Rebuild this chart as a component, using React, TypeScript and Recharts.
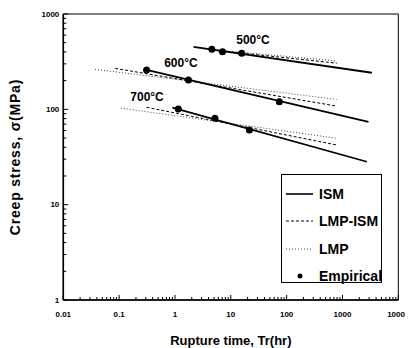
import React from 'react';
import { ComposedChart, Line, Scatter, XAxis, YAxis, Legend, ReferenceDot, ReferenceArea, Label } from 'recharts';

// Temperatures
const temps = ['500°C', '600°C', '700°C'];

// ISM (solid) – rupture time (hr) and stress (MPa)
const ism500T = [2.15, 3360];
const ism500S = [452, 242];
const ism600T = [0.31, 2920];
const ism600S = [260, 74];
const ism700T = [0.9, 2740];
const ism700S = [104, 28.2];

// LMP-ISM (dashed)
const lmpIsm500T = [4.5, 790];
const lmpIsm500S = [420, 305];
const lmpIsm600T = [0.085, 800];
const lmpIsm600S = [269, 108];
const lmpIsm700T = [0.31, 800];
const lmpIsm700S = [105, 42.2];

// LMP (dotted)
const lmp500T = [4.5, 790];
const lmp500S = [425, 321];
const lmp600T = [0.037, 790];
const lmp600S = [263, 127];
const lmp700T = [0.107, 795];
const lmp700S = [103, 49.7];

// Empirical points
const emp500T = [4.57, 7.1, 15.7];
const emp500S = [426, 402, 387];
const emp600T = [0.31, 1.74, 74];
const emp600S = [258, 203, 120];
const emp700T = [1.15, 5.2, 21.5];
const emp700S = [100.7, 80.6, 60.7];

// Temperature label anchors
const labelT = [25, 1.28, 0.316];
const labelS = [533, 306, 134];

// Axes
const xDecades = [0.01, 0.1, 1, 10, 100, 1000, 10000];
const yDecades = [1, 10, 100, 1000];

const zip = (t: number[], s: number[]) => t.map((v, i) => ({ t: v, s: s[i] }));
const withMinor = (dec: number[]) => {
  const out: number[] = [];
  dec.forEach((d, i) => {
    out.push(d);
    if (i < dec.length - 1) for (let k = 2; k <= 9; k++) out.push(d * k);
  });
  return out;
};
const isDecade = (v: number) => Math.abs(Math.log10(v) - Math.round(Math.log10(v))) < 1e-6;

const ismSeries = [zip(ism500T, ism500S), zip(ism600T, ism600S), zip(ism700T, ism700S)];
const lmpIsmSeries = [zip(lmpIsm500T, lmpIsm500S), zip(lmpIsm600T, lmpIsm600S), zip(lmpIsm700T, lmpIsm700S)];
const lmpSeries = [zip(lmp500T, lmp500S), zip(lmp600T, lmp600S), zip(lmp700T, lmp700S)];
const empData = [...zip(emp500T, emp500S), ...zip(emp600T, emp600S), ...zip(emp700T, emp700S)];

const FONT = '"Liberation Sans", Arial, sans-serif';

const XTick = (props: any) => {
  const { x, y, payload } = props;
  const v = payload.value;
  const major = isDecade(v);
  return (
    <g>
      <line x1={x} x2={x} y1={y} y2={y - (major ? 5 : 3)} stroke="#000" strokeWidth={1} />
      {major && (
        <text x={x} y={y + 14} textAnchor="middle" dominantBaseline="central" fontFamily={FONT} fontWeight="bold" fontSize={8} fill="#000">
          {String(v)}
        </text>
      )}
    </g>
  );
};

const YTick = (props: any) => {
  const { x, y, payload } = props;
  const v = payload.value;
  const major = isDecade(v);
  return (
    <g>
      <line x1={x} x2={x + (major ? 5 : 3)} y1={y} y2={y} stroke="#000" strokeWidth={1} />
      {major && (
        <text x={x - 4} y={y} textAnchor="end" dominantBaseline="central" fontFamily={FONT} fontWeight="bold" fontSize={8} fill="#000">
          {String(v)}
        </text>
      )}
    </g>
  );
};

const legendItems = [
  { name: 'ISM', kind: 'solid' },
  { name: 'LMP-ISM', kind: 'dash' },
  { name: 'LMP', kind: 'dot' },
  { name: 'Empirical', kind: 'point' },
];

const LegendBox = () => (
  <div style={{ width: 101, height: 109, border: '1.5px solid #000', boxSizing: 'border-box', background: '#fff', position: 'relative' }}>
    {legendItems.map((it, i) => (
      <div key={it.name} style={{ position: 'absolute', left: 3, top: 19 + i * 27.3 - 9, height: 18, display: 'flex', alignItems: 'center' }}>
        <svg width={30} height={18}>
          {it.kind === 'solid' && <line x1={1} x2={28} y1={9} y2={9} stroke="#000" strokeWidth={1.6} />}
          {it.kind === 'dash' && <line x1={1} x2={28} y1={9} y2={9} stroke="#000" strokeWidth={1} strokeDasharray="3 2" />}
          {it.kind === 'dot' && <line x1={1} x2={28} y1={9} y2={9} stroke="#444" strokeWidth={1} strokeDasharray="1 2" />}
          {it.kind === 'point' && <circle cx={15} cy={9} r={2.5} fill="#000" />}
        </svg>
        <span style={{ marginLeft: 4, fontFamily: FONT, fontWeight: 'bold', fontSize: 14, color: '#000', lineHeight: '18px' }}>{it.name}</span>
      </div>
    ))}
  </div>
);

const EmpShape = (props: any) => {
  const { cx, cy } = props;
  return <circle cx={cx} cy={cy} r={3.5} fill="#000" />;
};

export default function App() {
  return (
    <ComposedChart width={405} height={340} margin={{ top: 6, right: 14.7, bottom: 0, left: 0 }}>
      <XAxis
        dataKey="t"
        type="number"
        scale="log"
        domain={[0.01, 10000]}
        allowDataOverflow
        ticks={withMinor(xDecades)}
        interval={0}
        tick={<XTick />}
        tickLine={false}
        tickSize={0}
        tickMargin={0}
        height={48}
        axisLine={{ stroke: '#000', strokeWidth: 1.6 }}
      >
        <Label
          content={(p: any) => {
            const vb = p.viewBox;
            return (
              <text x={vb.x + vb.width / 2} y={vb.y + 40} textAnchor="middle" dominantBaseline="central" fontFamily={FONT} fontWeight="bold" fontSize={13} fill="#000">
                Rupture time, Tr(hr)
              </text>
            );
          }}
        />
      </XAxis>
      <YAxis
        dataKey="s"
        type="number"
        scale="log"
        domain={[1, 1000]}
        allowDataOverflow
        ticks={withMinor(yDecades)}
        interval={0}
        tick={<YTick />}
        tickLine={false}
        tickSize={0}
        tickMargin={0}
        width={55.3}
        axisLine={{ stroke: '#000', strokeWidth: 1.6 }}
      >
        <Label
          content={(p: any) => {
            const vb = p.viewBox;
            const cx = 7;
            const cy = vb.y + vb.height / 2;
            return (
              <text x={cx} y={cy} transform={`rotate(-90 ${cx} ${cy})`} textAnchor="middle" dominantBaseline="central" fontFamily={FONT} fontWeight="bold" fontSize={14} letterSpacing={0.8} fill="#000">
                Creep stress, σ(MPa)
              </text>
            );
          }}
        />
      </YAxis>
      <ReferenceArea x1={0.01} x2={10000} y1={1} y2={1000} fill="none" stroke="#000" strokeWidth={1} />
      {lmpSeries.map((d, i) => (
        <Line key={'lmp' + i} data={d} dataKey="s" stroke="#444" strokeWidth={1} strokeDasharray="1 2" dot={false} isAnimationActive={false} legendType="none" />
      ))}
      {lmpIsmSeries.map((d, i) => (
        <Line key={'lmpism' + i} data={d} dataKey="s" stroke="#000" strokeWidth={1} strokeDasharray="3 2" dot={false} isAnimationActive={false} legendType="none" />
      ))}
      {ismSeries.map((d, i) => (
        <Line key={'ism' + i} data={d} dataKey="s" stroke="#000" strokeWidth={1.8} dot={false} isAnimationActive={false} legendType="none" />
      ))}
      <Scatter data={empData} dataKey="s" shape={<EmpShape />} isAnimationActive={false} legendType="none" />
      {temps.map((name, i) => (
        <ReferenceDot
          key={name}
          x={labelT[i]}
          y={labelS[i]}
          r={0}
          fill="none"
          stroke="none"
          label={(p: any) => {
            const vb = p.viewBox;
            const cx = vb.x + (vb.width || 0) / 2;
            const cy = vb.y + (vb.height || 0) / 2;
            return (
              <text x={cx} y={cy} textAnchor="middle" dominantBaseline="central" fontFamily={FONT} fontWeight="bold" fontSize={12} fill="#000">
                {name}
              </text>
            );
          }}
        />
      ))}
      <Legend
        layout="vertical"
        align="center"
        verticalAlign="middle"
        content={() => <LegendBox />}
        wrapperStyle={{ position: 'absolute', left: 273, top: 166, width: 101, height: 109 }}
      />
    </ComposedChart>
  );
}
